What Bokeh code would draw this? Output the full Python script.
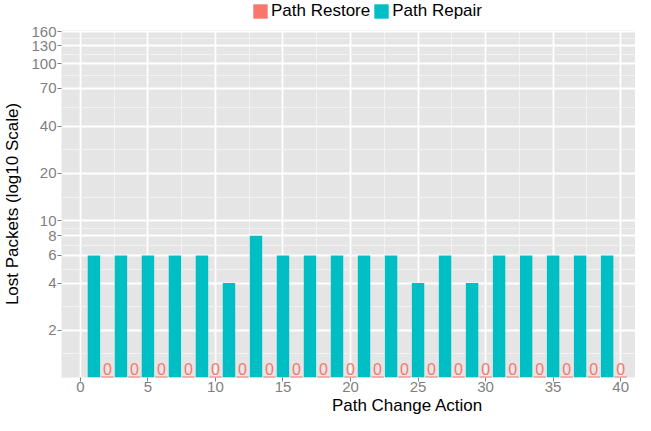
from bokeh.plotting import figure
from bokeh.layouts import column
from bokeh.models import (FixedTicker, Legend, LegendItem, Range1d, Label,
                          BasicTickFormatter, ColumnDataSource)
from bokeh.embed import file_html
from bokeh.resources import INLINE
from bokeh.core.properties import value
import numpy as np

# ---- data ----
repair_action = [1, 3, 5, 7, 9, 11, 13, 15, 17, 19,
                 21, 23, 25, 27, 29, 31, 33, 35, 37, 39]
repair_lost = [6, 6, 6, 6, 6, 4, 8, 6, 6, 6,
               6, 6, 4, 6, 4, 6, 6, 6, 6, 6]
restore_action = [2, 4, 6, 8, 10, 12, 14, 16, 18, 20,
                  22, 24, 26, 28, 30, 32, 34, 36, 38, 40]
restore_lost = [0, 0, 0, 0, 0, 0, 0, 0, 0, 0,
                0, 0, 0, 0, 0, 0, 0, 0, 0, 0]
y_ticks = [2, 4, 6, 8, 10, 20, 40, 70, 100, 130, 160]
x_ticks = [0, 5, 10, 15, 20, 25, 30, 35, 40]
series_names = ["Path Restore", "Path Repair"]
x_title = "Path Change Action"
y_title = "Lost Packets (log10 Scale)"

SALMON = "#F8766D"
CYAN = "#00BFC4"
FONT = "Liberation Sans"
Y_MIN, Y_MAX = 1, 163
W = 635
LEG_H = 22
TITLE_H = 21
LEFT = 57

restore_src = ColumnDataSource(dict(
    x=restore_action,
    top=[max(v, Y_MIN) for v in restore_lost],
    label=[str(v) for v in restore_lost],
    base=[Y_MIN] * len(restore_action),
))
repair_src = ColumnDataSource(dict(x=repair_action, top=repair_lost))


def strip(h):
    f = figure(width=W, height=h, x_range=Range1d(0, 1), y_range=Range1d(0, 1),
               output_backend="svg", toolbar_location=None,
               x_axis_location=None, y_axis_location=None, min_border=0)
    f.grid.visible = False
    f.outline_line_color = None
    f.background_fill_color = "white"
    f.border_fill_color = "white"
    return f


# ---------------- main chart ----------------
p = figure(width=W, height=415 - LEG_H - TITLE_H, y_axis_type="log",
           x_range=Range1d(-1.4, 41.1), y_range=Range1d(Y_MIN, Y_MAX),
           output_backend="svg", toolbar_location=None,
           min_border_left=LEFT, min_border_right=0, min_border_top=8,
           min_border_bottom=0)

p.background_fill_color = "#E5E5E5"
p.border_fill_color = "white"
p.outline_line_color = None

ymaj = [Y_MIN] + y_ticks
ymin_ticks = [float(np.sqrt(a * b)) for a, b in zip(ymaj[:-1], ymaj[1:])]
yt = FixedTicker(ticks=y_ticks, minor_ticks=ymin_ticks)
xmin_ticks = [t + 2.5 for t in x_ticks]
xt = FixedTicker(ticks=x_ticks, minor_ticks=xmin_ticks)
p.yaxis.ticker = yt
p.ygrid.ticker = yt
p.xaxis.ticker = xt
p.xgrid.ticker = xt
p.yaxis.formatter = BasicTickFormatter()

for g in (p.xgrid, p.ygrid):
    g.grid_line_color = "white"
    g.grid_line_width = 1.8
    g.minor_grid_line_color = "#F2F2F2"
    g.minor_grid_line_width = 1.0

for ax in (p.xaxis, p.yaxis):
    ax.axis_line_color = None
    ax.major_tick_line_color = "#7F7F7F"
    ax.major_tick_out = 4
    ax.major_tick_in = 0
    ax.minor_tick_line_color = None
    ax.major_label_text_color = "#7F7F7F"
    ax.major_label_text_font = FONT
    ax.major_label_text_font_size = "15px"
    ax.major_label_standoff = 1
    ax.axis_label_text_font = FONT
    ax.axis_label_text_font_size = "17px"
    ax.axis_label_text_font_style = "normal"
    ax.axis_label_text_color = "black"
    ax.axis_label_standoff = 0

p.xaxis.major_label_standoff = 0
p.yaxis.axis_label_standoff = 6
p.yaxis.axis_label = y_title

p.vbar(x="x", top="top", bottom=Y_MIN, width=0.92, source=restore_src,
       fill_color=SALMON, line_color=SALMON, line_width=2)
p.vbar(x="x", top="top", bottom=Y_MIN, width=0.92, source=repair_src,
       fill_color=CYAN, line_color=None)

p.text(x="x", y="base", text="label", source=restore_src,
       text_font=value(FONT), text_font_size="16px", text_color=SALMON,
       text_align="center", text_baseline="bottom", y_offset=-3)

# ---------------- legend strip ----------------
lg = strip(LEG_H)
k_restore = lg.vbar(x="x", top="top", bottom=Y_MIN, width=0.92, source=restore_src,
                    fill_color=SALMON, line_color=None, visible=False)
k_repair = lg.vbar(x="x", top="top", bottom=Y_MIN, width=0.92, source=repair_src,
                   fill_color=CYAN, line_color=None, visible=False)

legend = Legend(items=[LegendItem(label=series_names[0], renderers=[k_restore]),
                       LegendItem(label=series_names[1], renderers=[k_repair])],
                orientation="horizontal", location=(190, 1),
                glyph_width=18, glyph_height=18, label_height=18,
                label_standoff=2, spacing=2, padding=0, margin=0,
                border_line_color=None, background_fill_alpha=0,
                inactive_fill_alpha=0,
                label_text_font=FONT, label_text_font_size="17px",
                label_text_color="black")
lg.add_layout(legend, "center")

# ---------------- x-axis title strip ----------------
tt = strip(TITLE_H)
tt.add_layout(Label(x=LEFT + (W - LEFT) / 2, y=1, x_units="screen", y_units="screen",
                    text=x_title, text_align="center", text_baseline="bottom",
                    text_font=FONT, text_font_size="17px", text_color="black"))

layout = column(lg, p, tt, spacing=0)
open("out.html", "w").write(file_html(layout, INLINE))
